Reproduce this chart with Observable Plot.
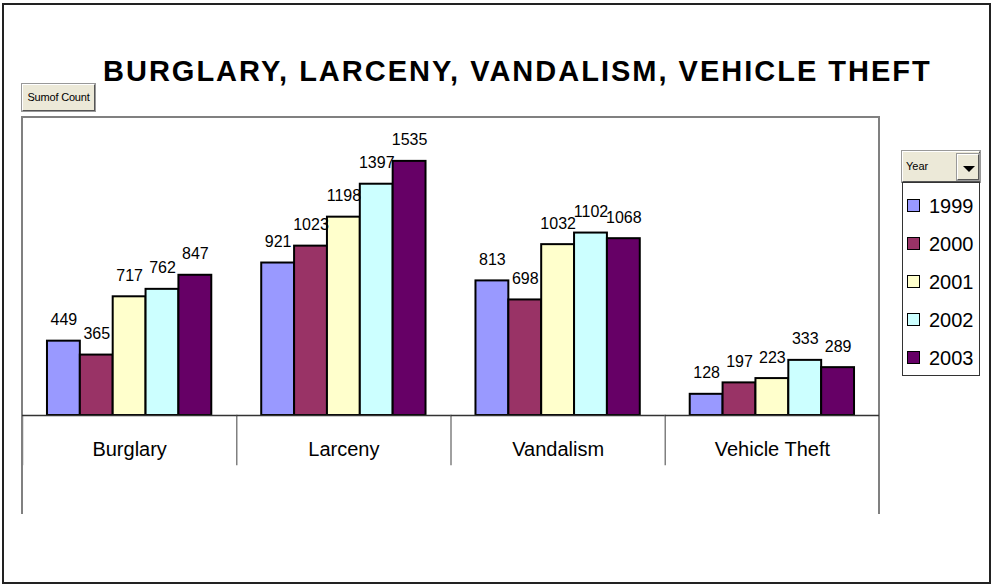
<!DOCTYPE html>
<html>
<head>
<meta charset="utf-8">
<script src="https://cdn.jsdelivr.net/npm/d3@7"></script>
<script src="https://cdn.jsdelivr.net/npm/@observablehq/plot@0.6"></script>
<style>
  html, body { margin: 0; padding: 0; background: #fff; }
  #root { position: relative; width: 995px; height: 585px; overflow: hidden; font-family: Arial, "Liberation Sans", sans-serif; color: #000; }
  .abs { position: absolute; box-sizing: border-box; }
  .btn { background: #ECE9D8; border-top: 1px solid #fff; border-left: 1px solid #fff; border-right: 1.5px solid #555; border-bottom: 1.5px solid #555; box-shadow: 0 0 0 1px #999; }
</style>
</head>
<body>
<div id="root">
  <div class="abs" style="left:2px;top:3px;width:989px;height:581px;border:2px solid #222;"></div>
  <div class="abs" id="title" style="left:103px;top:57px;font-size:29px;line-height:29px;font-weight:bold;letter-spacing:2px;white-space:nowrap;">BURGLARY, LARCENY, VANDALISM, VEHICLE THEFT</div>
  <div class="abs btn" style="left:22px;top:84px;width:73px;height:27px;font-size:11px;line-height:25px;text-align:center;white-space:nowrap;letter-spacing:-0.2px;">Sumof Count</div>
  <div class="abs" style="left:21px;top:116px;width:859px;height:398px;border-top:2px solid #808080;border-left:2px solid #808080;border-right:2px solid #808080;"></div>
  <div class="abs" id="chart" style="left:22px;top:117px;"></div>
  <div class="abs btn" style="left:902px;top:151px;width:78px;height:31px;"></div>
  <div class="abs" style="left:906px;top:159px;font-size:11px;line-height:14px;">Year</div>
  <div class="abs btn" style="left:957px;top:154px;width:22px;height:26px;"></div>
  <div class="abs" style="left:963px;top:166px;width:0;height:0;border-left:6px solid transparent;border-right:6px solid transparent;border-top:6px solid #000;"></div>
  <div class="abs" id="legend" style="left:902px;top:182px;width:78px;height:194px;border:1px solid #333;background:#fff;"></div>
</div>
<script>
const categories = ["Burglary", "Larceny", "Vandalism", "Vehicle Theft"];
const years = ["1999", "2000", "2001", "2002", "2003"];
const colors = ["#9999FF", "#993366", "#FFFFCC", "#CCFFFF", "#660066"];
const values1999 = [449, 921, 813, 128];
const values2000 = [365, 1023, 698, 197];
const values2001 = [717, 1198, 1032, 223];
const values2002 = [762, 1397, 1102, 333];
const values2003 = [847, 1535, 1068, 289];
const series = [values1999, values2000, values2001, values2002, values2003];

const rows = [];
categories.forEach((c, ci) => {
  years.forEach((y, yi) => {
    rows.push({category: c, year: y, value: series[yi][ci]});
  });
});

const chart = Plot.plot({
  width: 857,
  height: 396,
  marginTop: 0,
  marginBottom: 98,
  marginLeft: 0,
  marginRight: 0,
  style: {fontFamily: "Arial, 'Liberation Sans', sans-serif", background: "transparent", overflow: "visible", color: "#000"},
  fx: {domain: categories, padding: 0, label: null, round: false},
  x: {domain: years, paddingInner: 0, paddingOuter: 0.76, round: false, axis: null},
  y: {domain: [0, 1800], axis: null},
  color: {domain: years, range: colors},
  marks: [
    Plot.frame({anchor: "left", insetTop: 298, insetBottom: -49, stroke: "#808080", strokeWidth: 1.5, strokeOpacity: 1}),
    Plot.barY(rows, {fx: "category", x: "year", y: "value", fill: "year", stroke: "#000", strokeWidth: 2}),
    Plot.ruleY([0], {stroke: "#333", strokeWidth: 1.5}),
    Plot.text(rows, {fx: "category", x: "year", y: "value", text: d => String(d.value), lineAnchor: "bottom", dy: -16, fontSize: 16, fill: "#000"}),
    Plot.axisFx({anchor: "bottom", tickSize: 0, tickPadding: 26, fontSize: 20, label: null, fill: "#000"})
  ]
});
document.getElementById("chart").appendChild(chart);

const legend = d3.select("#legend");
years.forEach((y, i) => {
  const cy = 204.5 + 38 * i - 182;
  legend.append("div").attr("class", "abs")
    .style("left", "4px").style("top", (cy - 6.5) + "px")
    .style("width", "13px").style("height", "13px")
    .style("border", "1.5px solid #000").style("background", colors[i]);
  legend.append("div").attr("class", "abs")
    .style("left", "26px").style("top", (cy - 9.8) + "px")
    .style("font-size", "20px").style("line-height", "20px")
    .text(y);
});
</script>
</body>
</html>
